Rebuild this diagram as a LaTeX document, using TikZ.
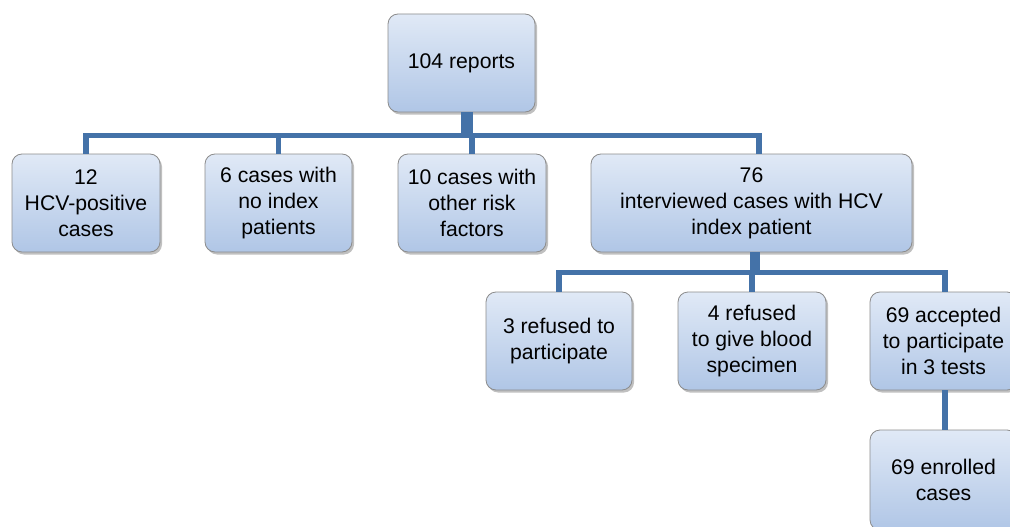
\documentclass[tikz,border=0pt]{standalone}
\usepackage{fontspec}
\setmainfont{Liberation Sans}
\usetikzlibrary{shadows}
\definecolor{conncol}{RGB}{68,114,168}
\definecolor{boxtop}{RGB}{224,233,246}
\definecolor{boxbot}{RGB}{176,198,230}
\definecolor{boxline}{RGB}{140,140,140}
\tikzset{
  box/.style={draw=boxline, line width=0.8pt, rounded corners=10pt,
    top color=boxtop, bottom color=boxbot, align=center,
    minimum height=98pt, inner sep=2pt,
    font=\fontsize{21.2}{26}\selectfont,
    drop shadow={shadow xshift=2pt, shadow yshift=-2.5pt, opacity=0.35, fill=black!70}},
  conn/.style={draw=conncol, line width=5.5pt},
}
\begin{document}
\begin{tikzpicture}[x=1pt,y=-1pt]
\clip (0,0) rectangle (1010,527);
\fill[white] (0,0) rectangle (1010,527);
\node[box, minimum width=147pt] (top) at (461.5,63) {104 reports};
\node[box, minimum width=148pt] (b1) at (86,203) {12\\HCV-positive\\cases};
\node[box, minimum width=147pt] (b2) at (278.5,203) {6 cases with\\no index\\patients};
\node[box, minimum width=148pt] (b3) at (472,203) {10 cases with\\other risk\\factors};
\node[box, minimum width=321pt] (b4) at (751.5,203) {76\\interviewed cases with HCV\\index patient};
\node[box, minimum width=146pt] (c1) at (559,341) {3 refused to\\participate};
\node[box, minimum width=148pt] (c2) at (752,341) {4 refused\\to give blood\\specimen};
\node[box, minimum width=147pt] (c3) at (943.5,341) {69 accepted\\to participate\\in 3 tests};
\node[box, minimum width=147pt, minimum height=100pt] (d1) at (943.5,480) {69 enrolled\\cases};
% level 1
\draw[conn, line width=12pt] ([xshift=5.5pt]top.south) -- ++(0,21);
\draw[conn] ([xshift=5.5pt]top.south) -- ++(0,23) -| (b1.north);
\draw[conn] ([xshift=5.5pt]top.south) -- ++(0,23) -| (b2.north);
\draw[conn] ([xshift=5.5pt]top.south) -- ++(0,23) -| (b3.north);
\draw[conn] ([xshift=5.5pt]top.south) -- ++(0,23) -| ([xshift=7.5pt]b4.north);
% level 2
\draw[conn, line width=10pt] ([xshift=3.5pt]b4.south) -- ++(0,18);
\draw[conn] ([xshift=3.5pt]b4.south) -- ++(0,20) -| (c1.north);
\draw[conn] ([xshift=3.5pt]b4.south) -- ++(0,20) -| (c2.north);
\draw[conn] ([xshift=3.5pt]b4.south) -- ++(0,20) -| ([xshift=1.5pt]c3.north);
% level 3
\draw[conn] ([xshift=1.5pt]c3.south) -- ([xshift=1.5pt]d1.north);
\end{tikzpicture}
\end{document}
